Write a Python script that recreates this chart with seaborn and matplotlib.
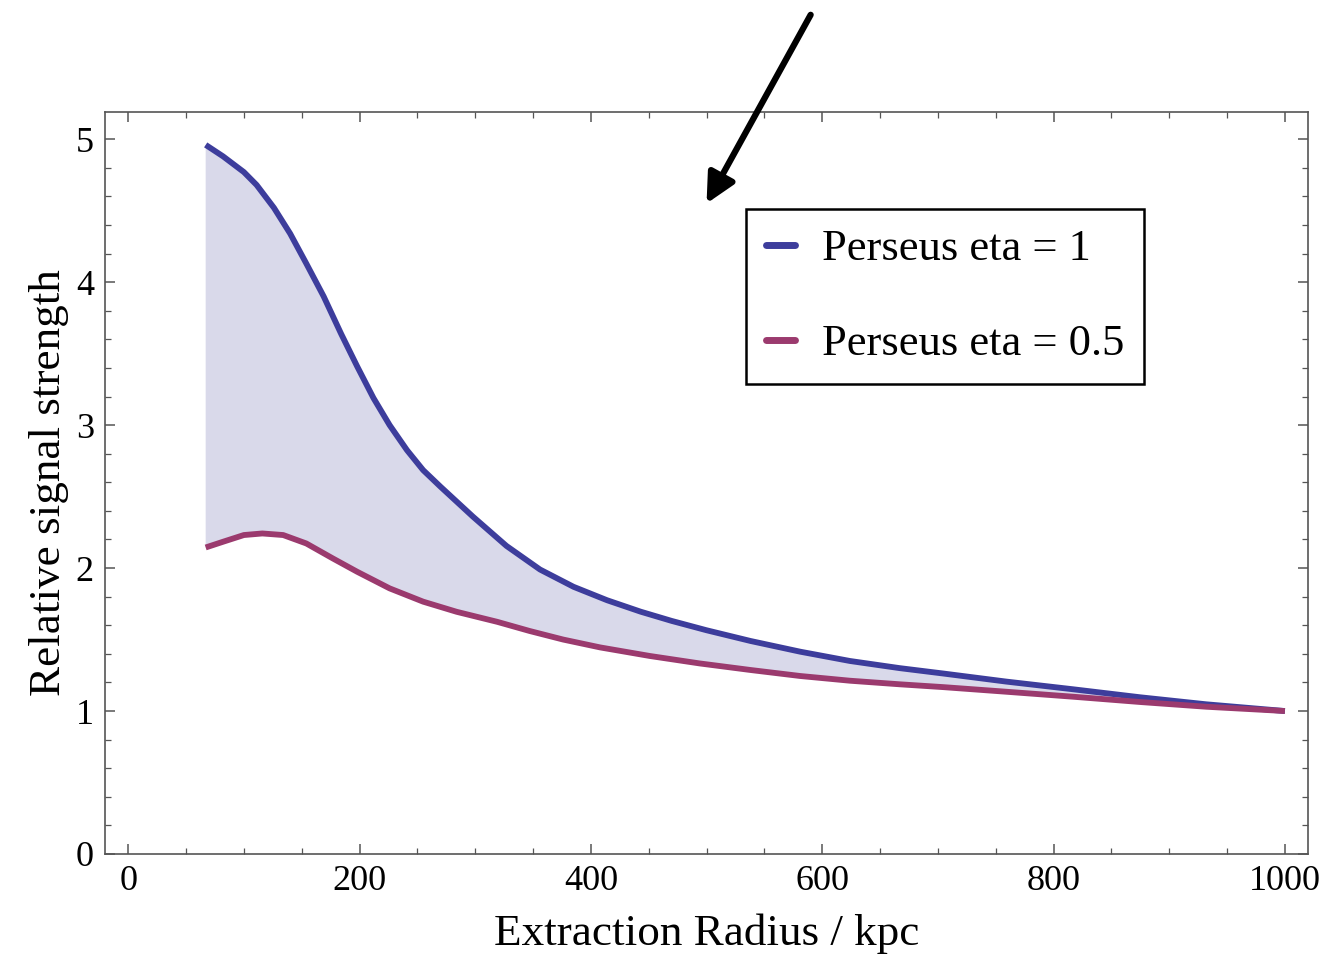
import matplotlib
matplotlib.use("Agg")
import matplotlib.pyplot as plt
import seaborn as sns
import pandas as pd
import numpy as np
from matplotlib.lines import Line2D
from matplotlib.ticker import MultipleLocator

# Perseus eta = 1
radius_eta1 = [67, 82, 100, 111, 126, 140, 154, 169, 184, 198, 212, 226, 241, 255, 270, 298, 327, 356,
               385, 414, 443, 470, 500, 538, 581, 624, 667, 705, 759, 817, 875, 932, 1000]
signal_eta1 = [4.96, 4.88, 4.77, 4.68, 4.52, 4.34, 4.13, 3.90, 3.64, 3.41, 3.19, 3.00, 2.825, 2.685,
               2.569, 2.36, 2.155, 1.99, 1.869, 1.775, 1.695, 1.63, 1.565, 1.49, 1.415, 1.35, 1.30,
               1.262, 1.206, 1.152, 1.096, 1.047, 1.0]
# Perseus eta = 0.5
radius_eta05 = [67, 82, 100, 116, 134, 154, 177, 198, 226, 255, 284, 319, 347, 376, 408, 451, 494, 538,
                581, 624, 667, 705, 759, 817, 875, 932, 1000]
signal_eta05 = [2.144, 2.184, 2.231, 2.242, 2.231, 2.172, 2.067, 1.974, 1.858, 1.765, 1.694, 1.624, 1.56,
                1.50, 1.445, 1.385, 1.333, 1.287, 1.245, 1.212, 1.187, 1.167, 1.135, 1.100, 1.063, 1.030,
                1.0]
labels = ["Perseus eta = 1", "Perseus eta = 0.5"]
colors = ["#3d3d9c", "#9b3a6e"]

sns.set_style("ticks")
plt.rcParams['font.family'] = ['Liberation Serif', 'DejaVu Serif']
plt.rcParams['text.color'] = 'black'
plt.rcParams['axes.labelcolor'] = 'black'
plt.rcParams['xtick.labelcolor'] = 'black'
plt.rcParams['ytick.labelcolor'] = 'black'

df1 = pd.DataFrame({"radius": radius_eta1, "signal": signal_eta1})
df2 = pd.DataFrame({"radius": radius_eta05, "signal": signal_eta05})

fig = plt.figure(figsize=(13.23, 9.59), dpi=100)
ax = fig.add_axes([0.0794, 0.1095, 0.9093, 0.7737])

poly_x = np.r_[df1["radius"].values, df2["radius"].values[::-1]]
poly_y = np.r_[df1["signal"].values, df2["signal"].values[::-1]]
ax.fill(poly_x, poly_y, color="#d9d9ea", lw=0, zorder=1)
sns.lineplot(data=df1, x="radius", y="signal", color=colors[0], lw=4.2, ax=ax, zorder=3)
sns.lineplot(data=df2, x="radius", y="signal", color=colors[1], lw=4.2, ax=ax, zorder=3)
for ln in ax.lines:
    ln.set_solid_joinstyle('round')
    ln.set_solid_capstyle('butt')

ax.set_xlim(-20, 1020)
ax.set_ylim(0, 5.19)
ax.xaxis.set_major_locator(MultipleLocator(200))
ax.xaxis.set_minor_locator(MultipleLocator(50))
ax.yaxis.set_major_locator(MultipleLocator(1))
ax.yaxis.set_minor_locator(MultipleLocator(0.2))
ax.tick_params(which='both', direction='in', top=True, right=True, color='#555555')
ax.tick_params(which='major', length=7, width=1.1, labelsize=26, pad=8)
ax.tick_params(which='minor', length=4, width=0.9)
for s in ax.spines.values():
    s.set_color('#555555')
    s.set_linewidth(1.2)

ax.set_xlabel("Extraction Radius / kpc", fontsize=32.5, labelpad=11)
ax.set_ylabel("Relative signal strength", fontsize=32.5, labelpad=5)

handles = [Line2D([0], [0], color=c, lw=5) for c in colors]
leg = ax.legend(handles, labels, loc='upper left', bbox_to_anchor=(0.533, 0.869),
                fontsize=32, frameon=True, fancybox=False, framealpha=1,
                handlelength=0.65, handletextpad=0.6, labelspacing=1.23,
                borderpad=0.45, borderaxespad=0)
leg.get_frame().set_edgecolor('black')
leg.get_frame().set_linewidth(1.8)

ax.annotate("", xy=(500, 4.55), xytext=(590, 5.87), xycoords='data',
            annotation_clip=False,
            arrowprops=dict(arrowstyle='-|>', lw=4.5, color='black', mutation_scale=44,
                            shrinkA=0, shrinkB=0))

fig.savefig("out.png", dpi=100)
